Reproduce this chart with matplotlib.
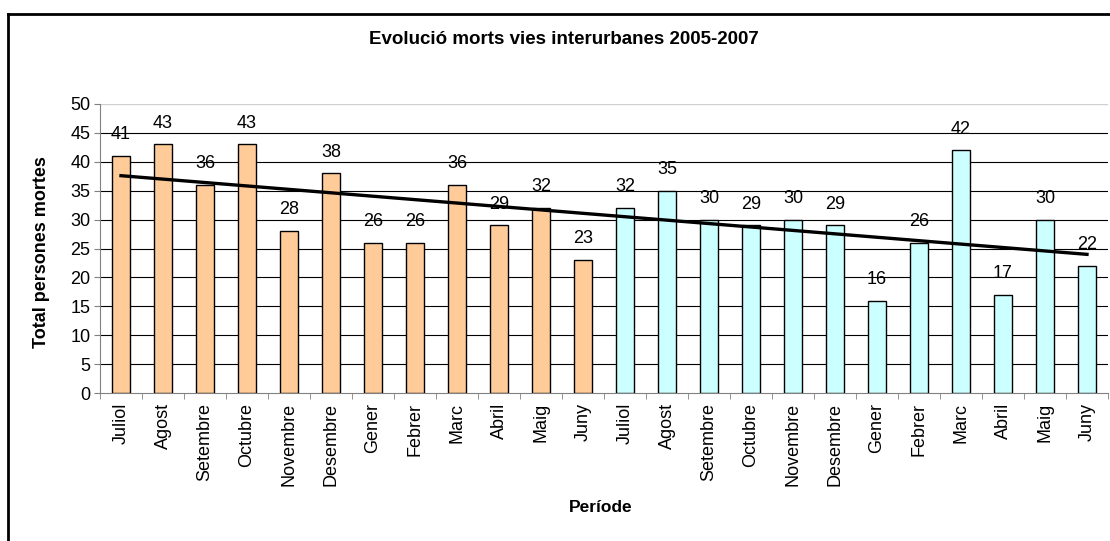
import numpy as np
import matplotlib
matplotlib.use("Agg")
import matplotlib.pyplot as plt
from matplotlib.lines import Line2D

plt.rcParams['font.family'] = ['Liberation Sans', 'DejaVu Sans']

months = ["Juliol", "Agost", "Setembre", "Octubre", "Novembre", "Desembre",
          "Gener", "Febrer", "Marc", "Abril", "Maig", "Juny"]
labels = months + months
values_2005_06 = [41, 43, 36, 43, 28, 38, 26, 26, 36, 29, 32, 23]
values_2006_07 = [32, 35, 30, 29, 30, 29, 16, 26, 42, 17, 30, 22]
title = "Evolució morts vies interurbanes 2005-2007"
ylabel = "Total persones mortes"
xlabel = "Període"

W, H = 1110, 541
fig = plt.figure(figsize=(W / 100, H / 100), dpi=100)
ax = fig.add_axes([100 / W, 1 - 393 / H, (1108 - 100) / W, (393 - 104) / H])

n1 = len(values_2005_06)
x1 = np.arange(n1)
x2 = np.arange(n1, n1 + len(values_2006_07))
bw = 0.45
ax.bar(x1, values_2005_06, width=bw, color="#FFCC99", edgecolor="black", linewidth=1.0, zorder=3)
ax.bar(x2, values_2006_07, width=bw, color="#CCFFFF", edgecolor="black", linewidth=1.0, zorder=3)

allv = np.array(values_2005_06 + values_2006_07, dtype=float)
xa = np.arange(len(allv))
for xi, v in zip(xa, allv):
    ax.annotate(f"{int(v)}", (xi, v), xytext=(0, 12), textcoords="offset points",
                ha="center", va="baseline", fontsize=13, zorder=5)

# linear trend line
m, b = np.polyfit(xa, allv, 1)
ax.plot([xa[0], xa[-1]], [m * xa[0] + b, m * xa[-1] + b], color="black", linewidth=2.4, zorder=4)

ax.set_xlim(-0.5, len(allv) - 0.5)
ax.set_ylim(0, 50)
ax.set_yticks(np.arange(0, 51, 5))
ax.tick_params(axis="y", labelsize=13, length=4, color="#808080", pad=3)
ax.set_xticks(xa)
ax.set_xticklabels(labels, rotation=90, fontsize=13)
ax.tick_params(axis="x", length=0, pad=7)
ax.set_xticks(np.arange(-0.5, len(allv), 1), minor=True)
ax.tick_params(axis="x", which="minor", length=4, color="#808080")

for yv in range(5, 50, 5):
    ax.axhline(yv, color="black", linewidth=0.8, zorder=1)
ax.axhline(50, color="#D0D0D0", linewidth=1.0, zorder=1)

for s in ["top", "right"]:
    ax.spines[s].set_visible(False)
ax.spines["left"].set_color("#808080")
ax.spines["bottom"].set_color("#808080")

fig.text(564 / W, 1 - 40 / H, title, ha="center", va="center", fontsize=13.5, fontweight="bold")
fig.text(42 / W, 1 - 252 / H, ylabel, ha="center", va="center", rotation=90, fontsize=13, fontweight="bold")
fig.text(601 / W, 1 - 507 / H, xlabel, ha="center", va="center", fontsize=12.5, fontweight="bold")

# outer chart border
fig.add_artist(Line2D([7.5 / W, 1.0], [1 - 14 / H, 1 - 14 / H], transform=fig.transFigure, color="black", linewidth=2))
fig.add_artist(Line2D([7.5 / W, 7.5 / W], [0, 1 - 14 / H], transform=fig.transFigure, color="black", linewidth=2))

fig.savefig("out.png", dpi=100)
